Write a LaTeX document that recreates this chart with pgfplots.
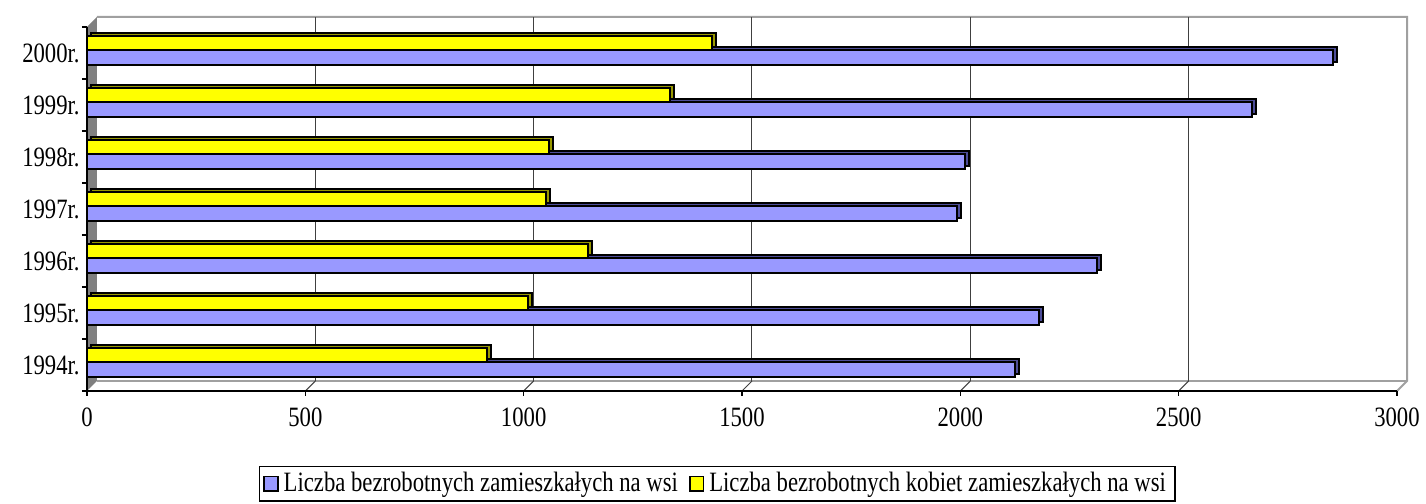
\documentclass[border=0pt]{standalone}
\usepackage{fontspec}
\setmainfont{Liberation Serif}[FakeStretch=0.81]
\usepackage{pgfplots}
\pgfplotsset{compat=1.18}
\definecolor{barblue}{HTML}{9999FF}
\definecolor{barblueside}{HTML}{4D4D99}
\definecolor{baryellow}{HTML}{FFFF00}
\definecolor{baryellowside}{HTML}{999900}
\definecolor{wallgray}{HTML}{808080}
\definecolor{edgegray}{HTML}{A0A0A0}
\pgfplotsset{sqlegend/.style={legend image code/.code={\draw[##1, line width=0.9pt] (0pt,-3.6pt) rectangle (6.8pt,3.6pt);}}}
\begin{document}
\begin{tikzpicture}
\path (-43.5pt,-56.5pt) rectangle (669.5pt,194pt);
\begin{axis}[
  scale only axis, width=655pt, height=182pt,
  xbar, xmin=0, xmax=3000, ymin=-0.5, ymax=6.5,
  bar width=0.28, clip=false, axis on top,
  axis x line=bottom, axis y line=left,
  axis line style={-, black, line width=0.6pt},
  xtick={0,500,...,3000},
  ytick={-0.5,0.5,1.5,2.5,3.5,4.5,5.5,6.5},
  yticklabels={1994r.,1995r.,1996r.,1997r.,1998r.,1999r.,2000r.,{}},
  yticklabel style={yshift=13pt, xshift=-1pt, inner sep=0pt},
  xticklabel style={inner sep=0pt, yshift=-5.5pt},
  tick align=outside,
  major tick length=2.5pt,
  tick style={black, line width=0.6pt},
  tick label style={font=\fontsize{14}{16}\selectfont},
  /pgf/number format/assume math mode=true,
  /pgf/number format/1000 sep={},
  legend style={at={(0.481,-0.206)}, anchor=north, draw=black, line width=0.6pt,
    legend columns=2, font=\fontsize{14}{16}\selectfont,
    inner xsep=2pt, inner ysep=2pt,
    nodes={inner ysep=1pt, inner xsep=2.5pt},
    /tikz/every even column/.append style={column sep=3pt}},
  legend cell align=left,
]
% left wall
\fill[wallgray] (axis cs:0,-0.5) -- (axis cs:0,6.5) -- ([shift={(5pt,5pt)}]axis cs:0,6.5) -- ([shift={(5pt,5pt)}]axis cs:0,-0.5) -- cycle;
% back wall outline
\draw[edgegray, line width=1pt] ([shift={(5pt,5pt)}]axis cs:0,6.5) -- ([shift={(5pt,5pt)}]axis cs:3000,6.5) -- ([shift={(5pt,5pt)}]axis cs:3000,-0.5) -- (axis cs:3000,-0.5);
\draw[edgegray, line width=1.2pt] ([shift={(5pt,5pt)}]axis cs:0,-0.5) -- ([shift={(5pt,5pt)}]axis cs:3000,-0.5);
% gridlines
\pgfplotsinvokeforeach{500,1000,1500,2000,2500}{
  \draw[black!75, line width=0.5pt] ([shift={(5pt,5pt)}]axis cs:#1,-0.5) -- ([shift={(5pt,5pt)}]axis cs:#1,6.5);
  \draw[black!75, line width=0.5pt] (axis cs:#1,-0.5) -- ([shift={(5pt,5pt)}]axis cs:#1,-0.5);
}
% blue series
\addplot[forget plot, fill=barblueside, draw=black, line width=0.9pt, bar shift=-0.09, xshift=2pt, yshift=1.5pt]
  coordinates {(2125,0) (2180,1) (2313,2) (1992,3) (2011,4) (2668,5) (2853,6)};
\addplot[fill=barblue, draw=black, line width=0.9pt, bar shift=-0.09, sqlegend]
  coordinates {(2125,0) (2180,1) (2313,2) (1992,3) (2011,4) (2668,5) (2853,6)};
% yellow series
\addplot[forget plot, fill=baryellowside, draw=black, line width=0.9pt, bar shift=0.19, xshift=2pt, yshift=1.5pt]
  coordinates {(916,0) (1010,1) (1147,2) (1051,3) (1058,4) (1335,5) (1431,6)};
\addplot[fill=baryellow, draw=black, line width=0.9pt, bar shift=0.19, sqlegend]
  coordinates {(916,0) (1010,1) (1147,2) (1051,3) (1058,4) (1335,5) (1431,6)};
\legend{Liczba bezrobotnych zamieszkałych na wsi, Liczba bezrobotnych kobiet zamieszkałych na wsi}
\end{axis}
\end{tikzpicture}
\end{document}
